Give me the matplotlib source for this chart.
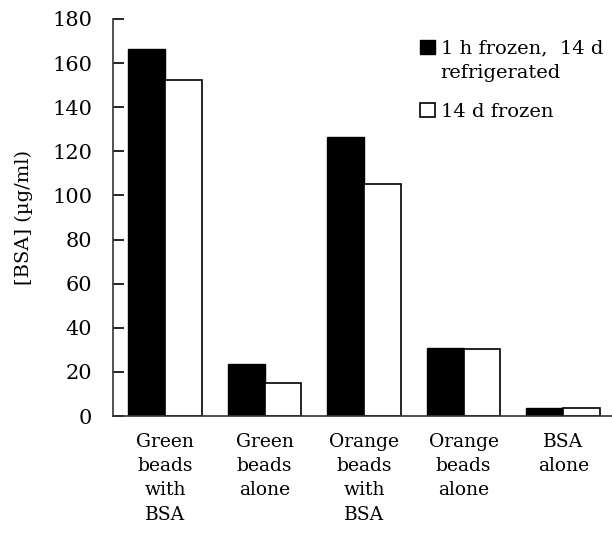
import numpy as np
from matplotlib import pyplot as plt
from matplotlib.patches import Rectangle
from matplotlib.legend_handler import HandlerPatch

plt.rcParams['font.family'] = 'DejaVu Serif'

### data
groups = ['Green\nbeads\nwith\nBSA', 'Green\nbeads\nalone', 'Orange\nbeads\nwith\nBSA',
          'Orange\nbeads\nalone', 'BSA\nalone']
frozen_1h = [166.5, 23.5, 126.5, 30.8, 3.6]
frozen_14d = [152.3, 15.1, 105.0, 30.5, 3.5]
yticks = [0, 20, 40, 60, 80, 100, 120, 140, 160, 180]
labels = ['1 h frozen,  14 d\nrefrigerated', '14 d frozen']


def top_square(legend, orig_handle, xdescent, ydescent, width, height, fontsize):
    # put the legend square next to the first line of a two-line label
    return Rectangle((-xdescent, -ydescent + 0.72 * fontsize), width, height)


### plot
fig = plt.figure(figsize=(6.12, 5.39), dpi=100)
ax = fig.add_axes([0.185, 0.228, 0.815, 0.737])

x = np.arange(len(groups))
w = 0.37
b1 = ax.bar(x - w/2, frozen_1h, w, color='black', edgecolor='black', linewidth=1)
b2 = ax.bar(x + w/2, frozen_14d, w, color='white', edgecolor='black', linewidth=1.2)

ax.set_xlim(-0.52, 4.49)
ax.set_ylim(0, 180)
ax.set_yticks(yticks)
ax.set_xticks(x)
ax.set_xticklabels(groups, fontsize=13.5, linespacing=1.45)
ax.tick_params(axis='x', length=0, pad=12)
ax.tick_params(axis='y', direction='in', length=8, width=1.2, labelsize=15, pad=15)
for s in ['top', 'right']:
    ax.spines[s].set_visible(False)
for s in ['left', 'bottom']:
    ax.spines[s].set_linewidth(1.2)
    ax.spines[s].set_color('#333333')
ax.set_ylabel('[BSA] (µg/ml)', fontsize=14)
ax.yaxis.set_label_coords(-0.16, 0.5)

h1, h2 = b1.patches[0], b2.patches[0]
leg = ax.legend([h1, h2], labels, loc='upper left', bbox_to_anchor=(0.60, 0.967),
                borderaxespad=0, frameon=False, fontsize=14, handlelength=0.75,
                handleheight=0.75, handletextpad=0.3, labelspacing=1.05,
                handler_map={h1: HandlerPatch(patch_func=top_square)})
for t in leg.get_texts():
    t.set_linespacing(1.47)

fig.savefig('out.png', dpi=100)
